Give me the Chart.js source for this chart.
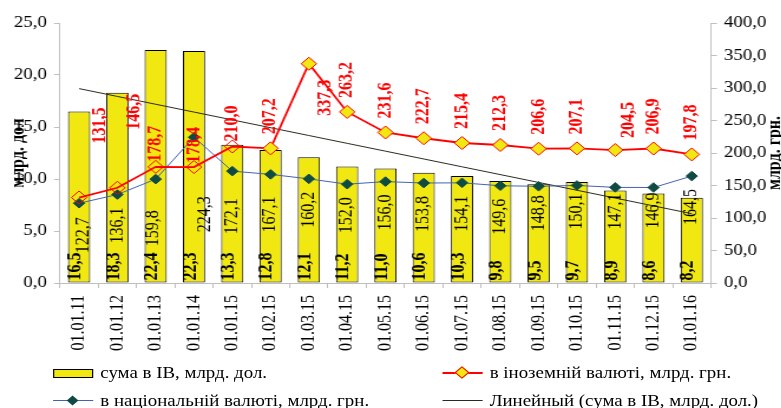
<!DOCTYPE html>
<html>
<head>
<meta charset="utf-8">
<script src="https://cdn.jsdelivr.net/npm/chart.js@4.4.1/dist/chart.umd.min.js"></script>
<style>
  html, body { margin: 0; padding: 0; background: #fff; overflow: hidden; }
  /* the reference is stretched sideways, so draw narrow and scale x */
  #wrap { position: relative; width: 662px; height: 408px; transform: scaleX(1.18); transform-origin: 0 0; }
  #chart { position: absolute; left: 0; top: 0; }
  .leg { position: absolute; font: 16px "Liberation Serif", serif; color: #000; white-space: nowrap; line-height: 18px; height: 18px; }
  .sym { display: inline-block; position: relative; width: 34px; height: 18px; vertical-align: top; margin-right: 6px; }
  .sym .box { position: absolute; left: 0; top: 5px; width: 32px; height: 7px; background: #F0E810; border: 1px solid #000; }
  .sym .ln { position: absolute; left: 0; right: 0; top: 8px; }
  .sym .dm { position: absolute; left: 13px; top: 5px; width: 7px; height: 7px; transform: rotate(45deg); }
</style>
</head>
<body>
<div id="wrap">
  <canvas id="chart" width="662" height="408"></canvas>
</div>
<script>
// данные
const dates = ['01.01.11', '01.01.12', '01.01.13', '01.01.14', '01.01.15', '01.02.15', '01.03.15', '01.04.15', '01.05.15',
  '01.06.15', '01.07.15', '01.08.15', '01.09.15', '01.10.15', '01.11.15', '01.12.15', '01.01.16'];
const sumUsd = [16.5, 18.3, 22.4, 22.3, 13.3, 12.8, 12.1, 11.2, 11.0, 10.6, 10.3, 9.8, 9.5, 9.7, 8.9, 8.6, 8.2];
const foreignUah = [131.5, 146.5, 178.7, 178.4, 210.0, 207.2, 337.3, 263.2, 231.6, 222.7, 215.4, 212.3, 206.6, 207.1, 204.5, 206.9, 197.8];
const nationalUah = [122.7, 136.1, 159.8, 224.3, 172.1, 167.1, 160.2, 152.0, 156.0, 153.8, 154.1, 149.6, 148.8, 150.1, 147.1, 146.9, 164.5];
const usdAxis = { min: 0, max: 25, step: 5, title: 'млрд. дол' };
const uahAxis = { min: 0, max: 400, step: 50, title: 'млрд. грн.' };
const labels = {
  sum: 'сума в ІВ, млрд. дол.',
  foreign: 'в іноземній валюті, млрд. грн.',
  national: 'в національній валюті, млрд. грн.',
  trend: 'Линейный (сума в ІВ, млрд. дол.)'
};

// linear trend like Excel does it
function linearTrend(ys) {
  const n = ys.length;
  const mx = (n + 1) / 2;
  const my = ys.reduce((a, b) => a + b, 0) / n;
  let sxy = 0, sxx = 0;
  ys.forEach((y, i) => { sxy += (i + 1 - mx) * (y - my); sxx += (i + 1 - mx) ** 2; });
  const k = sxy / sxx;
  return ys.map((_, i) => my + k * (i + 1 - mx));
}

const YELLOW = '#F0E810';
const RED = '#FF0000';
const BLUE = '#4262B0';
const DARK = '#0F4A44';
const AXIS = '#BFBFBF';
const SERIF = '"Liberation Serif", "Times New Roman", serif';
const fmt = v => v.toFixed(1).replace('.', ',');

function rotText(ctx, text, x, y, align) {
  ctx.save();
  ctx.translate(x, y);
  ctx.rotate(-Math.PI / 2);
  ctx.textAlign = align;
  ctx.textBaseline = 'middle';
  ctx.fillText(text, 0, 0);
  ctx.restore();
}

// hand-moved labels in the original
const redShift = { 0: [18, 54], 1: [14, 58], 2: [0, 5], 3: [0, 4], 4: [0, 5], 14: [11, 12] };
const blueShift = { 0: [4, 14], 2: [-2, 31], 3: [9, 59], 4: [0, 27], 5: [0, 22], 12: [0, 9], 13: [0, 8], 14: [0, 6], 15: [0, 5] };

const labelPlugin = {
  id: 'labels',
  afterDatasetsDraw(chart) {
    const ctx = chart.ctx;
    const bars = chart.getDatasetMeta(0).data;
    const red = chart.getDatasetMeta(1).data;
    const blue = chart.getDatasetMeta(2).data;

    ctx.fillStyle = '#000';
    ctx.font = 'bold 16px ' + SERIF;
    bars.forEach((b, i) => rotText(ctx, fmt(sumUsd[i]), b.x - 3, b.base - 2, 'left'));

    ctx.font = '16px ' + SERIF;
    blue.forEach((p, i) => {
      const [dx, gap] = blueShift[i] || [0, 13];
      rotText(ctx, fmt(nationalUah[i]), p.x + dx, p.y + gap, 'right');
    });

    ctx.fillStyle = RED;
    ctx.font = 'bold 16px ' + SERIF;
    red.forEach((p, i) => {
      if (i === 6) {
        rotText(ctx, fmt(foreignUah[i]), p.x + 14, p.y + 16, 'right');
        return;
      }
      const [dx, gap] = redShift[i] || [0, 14];
      rotText(ctx, fmt(foreignUah[i]), p.x + dx, p.y - gap, 'left');
    });

    // axis titles, both read bottom to top
    const area = chart.chartArea;
    const cy = (area.top + area.bottom) / 2;
    ctx.fillStyle = '#000';
    ctx.font = 'bold 16px ' + SERIF;
    ctx.save(); ctx.translate(15.5, cy); ctx.rotate(-Math.PI / 2);
    ctx.textAlign = 'center'; ctx.textBaseline = 'middle';
    ctx.fillText(usdAxis.title, 0, 0); ctx.restore();
    ctx.save(); ctx.translate(657, cy); ctx.rotate(-Math.PI / 2);
    ctx.textAlign = 'center'; ctx.textBaseline = 'middle';
    ctx.fillText(uahAxis.title, 0, 0); ctx.restore();
  }
};

const tickFont = { family: SERIF, size: 16 };

const chart = new Chart(document.getElementById('chart'), {
  data: {
    labels: dates,
    datasets: [
      {
        type: 'bar', label: labels.sum, data: sumUsd, yAxisID: 'y', order: 4,
        backgroundColor: YELLOW, borderColor: '#000', borderWidth: 1, borderSkipped: false,
        barPercentage: 0.58, categoryPercentage: 1
      },
      {
        type: 'line', label: labels.foreign, data: foreignUah, yAxisID: 'y1', order: 1,
        borderColor: RED, borderWidth: 1.8, tension: 0,
        pointStyle: 'rectRot', pointRadius: 6.5, pointBorderColor: RED, pointBorderWidth: 1,
        pointBackgroundColor: c => c.dataIndex < 5 ? 'rgba(0,0,0,0)' : YELLOW
      },
      {
        type: 'line', label: labels.national, data: nationalUah, yAxisID: 'y1', order: 2,
        borderColor: BLUE, borderWidth: 1, tension: 0,
        pointStyle: 'rectRot', pointRadius: 4.8, pointBorderColor: DARK, pointBackgroundColor: DARK, pointBorderWidth: 1
      },
      {
        type: 'line', label: labels.trend, data: linearTrend(sumUsd), yAxisID: 'y', order: 3,
        borderColor: '#2A2A1E', borderWidth: 1, pointRadius: 0, tension: 0
      }
    ]
  },
  options: {
    responsive: false,
    animation: false,
    layout: { padding: { top: 23, left: 0, right: 0, bottom: 0 } },
    plugins: { legend: { display: false }, tooltip: { enabled: false } },
    scales: {
      x: {
        offset: true,
        grid: { offset: true, drawOnChartArea: false, tickLength: 5, color: AXIS },
        border: { color: AXIS },
        ticks: { minRotation: 90, maxRotation: 90, autoSkip: false, padding: 7, font: tickFont, color: '#000' },
        afterFit: s => { s.height = 125; }
      },
      y: {
        position: 'left', min: usdAxis.min, max: usdAxis.max,
        grid: { drawOnChartArea: false, tickLength: 5, color: AXIS },
        border: { color: AXIS },
        ticks: { stepSize: usdAxis.step, padding: 6, font: tickFont, color: '#000', callback: v => fmt(v) },
        afterFit: s => { s.width = 50.8; }
      },
      y1: {
        position: 'right', min: uahAxis.min, max: uahAxis.max,
        grid: { drawOnChartArea: false, tickLength: 5, color: AXIS },
        border: { color: AXIS },
        ticks: { stepSize: uahAxis.step, padding: 6, font: tickFont, color: '#000', callback: v => fmt(v) },
        afterFit: s => { s.width = 59.5; }
      }
    }
  },
  plugins: [labelPlugin]
});

// legend, 2 x 2 like in the original
const wrap = document.getElementById('wrap');
const legendItems = [
  { text: labels.sum, kind: 'bar', left: 45, top: 364 },
  { text: labels.foreign, kind: 'foreign', left: 375, top: 364 },
  { text: labels.national, kind: 'national', left: 45, top: 392 },
  { text: labels.trend, kind: 'trend', left: 375, top: 392 }
];
legendItems.forEach(it => {
  const div = document.createElement('div');
  div.className = 'leg';
  div.style.left = it.left + 'px';
  div.style.top = it.top + 'px';
  const sym = document.createElement('span');
  sym.className = 'sym';
  if (it.kind === 'bar') {
    sym.innerHTML = '<span class="box"></span>';
  } else if (it.kind === 'foreign') {
    sym.innerHTML = `<span class="ln" style="border-top:2px solid ${RED}"></span>` +
      `<span class="dm" style="background:${YELLOW};border:1px solid ${RED};left:12px;top:4px"></span>`;
  } else if (it.kind === 'national') {
    sym.innerHTML = `<span class="ln" style="border-top:1px solid ${BLUE}"></span>` +
      `<span class="dm" style="background:${DARK}"></span>`;
  } else {
    sym.innerHTML = '<span class="ln" style="border-top:1px solid #2A2A1E"></span>';
  }
  div.appendChild(sym);
  div.appendChild(document.createTextNode(it.text));
  wrap.appendChild(div);
});
</script>
</body>
</html>
